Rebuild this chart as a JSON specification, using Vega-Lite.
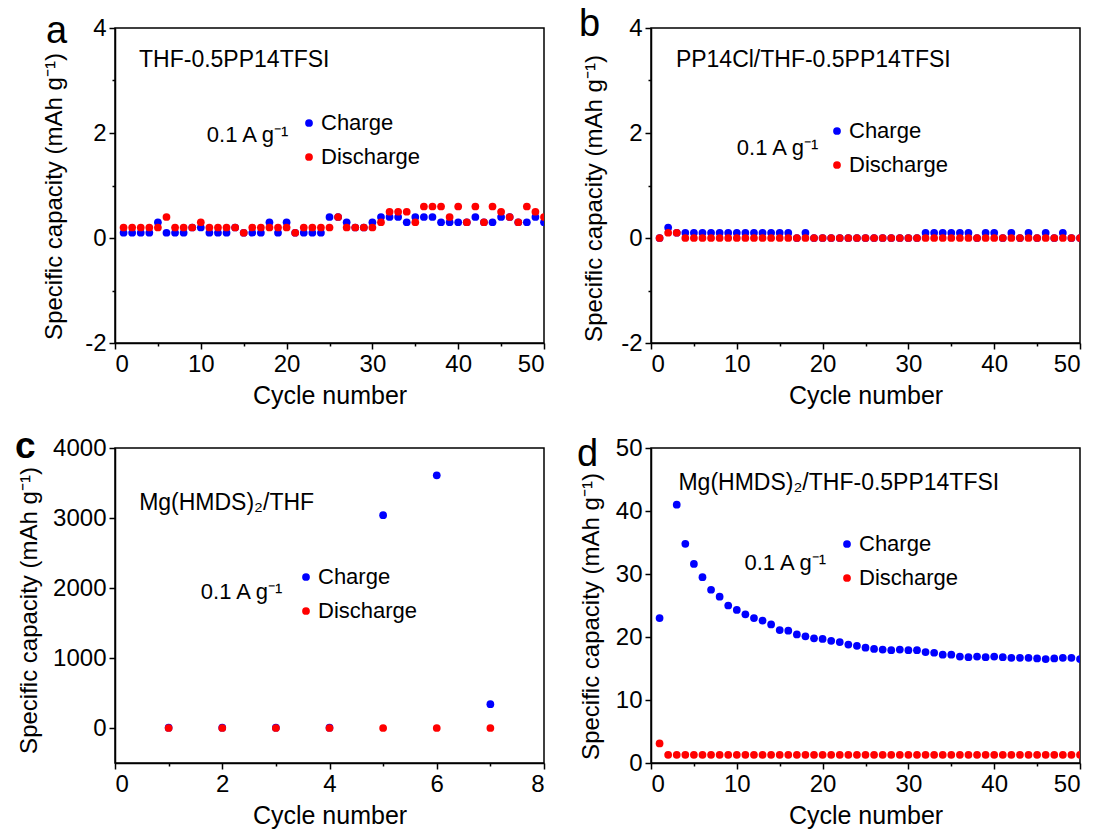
{
"$schema": "https://vega.github.io/schema/vega-lite/v6.json",
"background": "white",
"padding": {"left": 14, "top": 5, "right": 5, "bottom": 5},
"config": {
  "font": "Liberation Sans",
  "view": {"stroke": "black", "strokeWidth": 1.5},
  "axis": {"grid": false, "domainColor": "black", "domainWidth": 1.5, "tickColor": "black", "tickWidth": 1.5, "tickSize": 6,
    "labelFont": "Liberation Sans", "labelFontSize": 24, "labelColor": "black", "labelPadding": 3,
    "titleFont": "Liberation Sans", "titleFontSize": 25, "titleFontWeight": "normal", "titleColor": "black", "titlePadding": 7},
  "axisY": {"titleFontSize": 24},
  "legend": {"title": null, "orient": "none", "symbolType": "circle", "symbolSize": 60, "symbolStrokeWidth": 0,
    "labelFont": "Liberation Sans", "labelFontSize": 22, "labelColor": "black", "rowPadding": 12, "labelOffset": 1, "padding": 0},
  "text": {"font": "Liberation Sans", "color": "black"}
},
"datasets": {
  "a": [
    {"cycle":1,"series":"Charge","capacity":0.1},{"cycle":2,"series":"Charge","capacity":0.1},{"cycle":3,"series":"Charge","capacity":0.1},{"cycle":4,"series":"Charge","capacity":0.1},{"cycle":5,"series":"Charge","capacity":0.3},
    {"cycle":6,"series":"Charge","capacity":0.1},{"cycle":7,"series":"Charge","capacity":0.1},{"cycle":8,"series":"Charge","capacity":0.1},{"cycle":9,"series":"Charge","capacity":0.2},{"cycle":10,"series":"Charge","capacity":0.2},
    {"cycle":11,"series":"Charge","capacity":0.1},{"cycle":12,"series":"Charge","capacity":0.1},{"cycle":13,"series":"Charge","capacity":0.1},{"cycle":14,"series":"Charge","capacity":0.2},{"cycle":15,"series":"Charge","capacity":0.1},
    {"cycle":16,"series":"Charge","capacity":0.1},{"cycle":17,"series":"Charge","capacity":0.1},{"cycle":18,"series":"Charge","capacity":0.3},{"cycle":19,"series":"Charge","capacity":0.1},{"cycle":20,"series":"Charge","capacity":0.3},
    {"cycle":21,"series":"Charge","capacity":0.1},{"cycle":22,"series":"Charge","capacity":0.1},{"cycle":23,"series":"Charge","capacity":0.1},{"cycle":24,"series":"Charge","capacity":0.1},{"cycle":25,"series":"Charge","capacity":0.4},
    {"cycle":26,"series":"Charge","capacity":0.4},{"cycle":27,"series":"Charge","capacity":0.3},{"cycle":28,"series":"Charge","capacity":0.2},{"cycle":29,"series":"Charge","capacity":0.2},{"cycle":30,"series":"Charge","capacity":0.3},
    {"cycle":31,"series":"Charge","capacity":0.4},{"cycle":32,"series":"Charge","capacity":0.4},{"cycle":33,"series":"Charge","capacity":0.4},{"cycle":34,"series":"Charge","capacity":0.3},{"cycle":35,"series":"Charge","capacity":0.4},
    {"cycle":36,"series":"Charge","capacity":0.4},{"cycle":37,"series":"Charge","capacity":0.4},{"cycle":38,"series":"Charge","capacity":0.3},{"cycle":39,"series":"Charge","capacity":0.3},{"cycle":40,"series":"Charge","capacity":0.3},
    {"cycle":41,"series":"Charge","capacity":0.3},{"cycle":42,"series":"Charge","capacity":0.4},{"cycle":43,"series":"Charge","capacity":0.3},{"cycle":44,"series":"Charge","capacity":0.3},{"cycle":45,"series":"Charge","capacity":0.4},
    {"cycle":46,"series":"Charge","capacity":0.4},{"cycle":47,"series":"Charge","capacity":0.3},{"cycle":48,"series":"Charge","capacity":0.3},{"cycle":49,"series":"Charge","capacity":0.4},{"cycle":50,"series":"Charge","capacity":0.3},
    {"cycle":1,"series":"Discharge","capacity":0.2},{"cycle":2,"series":"Discharge","capacity":0.2},{"cycle":3,"series":"Discharge","capacity":0.2},{"cycle":4,"series":"Discharge","capacity":0.2},{"cycle":5,"series":"Discharge","capacity":0.2},
    {"cycle":6,"series":"Discharge","capacity":0.4},{"cycle":7,"series":"Discharge","capacity":0.2},{"cycle":8,"series":"Discharge","capacity":0.2},{"cycle":9,"series":"Discharge","capacity":0.2},{"cycle":10,"series":"Discharge","capacity":0.3},
    {"cycle":11,"series":"Discharge","capacity":0.2},{"cycle":12,"series":"Discharge","capacity":0.2},{"cycle":13,"series":"Discharge","capacity":0.2},{"cycle":14,"series":"Discharge","capacity":0.2},{"cycle":15,"series":"Discharge","capacity":0.1},
    {"cycle":16,"series":"Discharge","capacity":0.2},{"cycle":17,"series":"Discharge","capacity":0.2},{"cycle":18,"series":"Discharge","capacity":0.2},{"cycle":19,"series":"Discharge","capacity":0.2},{"cycle":20,"series":"Discharge","capacity":0.2},
    {"cycle":21,"series":"Discharge","capacity":0.1},{"cycle":22,"series":"Discharge","capacity":0.2},{"cycle":23,"series":"Discharge","capacity":0.2},{"cycle":24,"series":"Discharge","capacity":0.2},{"cycle":25,"series":"Discharge","capacity":0.2},
    {"cycle":26,"series":"Discharge","capacity":0.4},{"cycle":27,"series":"Discharge","capacity":0.2},{"cycle":28,"series":"Discharge","capacity":0.2},{"cycle":29,"series":"Discharge","capacity":0.2},{"cycle":30,"series":"Discharge","capacity":0.2},
    {"cycle":31,"series":"Discharge","capacity":0.3},{"cycle":32,"series":"Discharge","capacity":0.5},{"cycle":33,"series":"Discharge","capacity":0.5},{"cycle":34,"series":"Discharge","capacity":0.5},{"cycle":35,"series":"Discharge","capacity":0.3},
    {"cycle":36,"series":"Discharge","capacity":0.6},{"cycle":37,"series":"Discharge","capacity":0.6},{"cycle":38,"series":"Discharge","capacity":0.6},{"cycle":39,"series":"Discharge","capacity":0.4},{"cycle":40,"series":"Discharge","capacity":0.6},
    {"cycle":41,"series":"Discharge","capacity":0.3},{"cycle":42,"series":"Discharge","capacity":0.6},{"cycle":43,"series":"Discharge","capacity":0.3},{"cycle":44,"series":"Discharge","capacity":0.6},{"cycle":45,"series":"Discharge","capacity":0.5},
    {"cycle":46,"series":"Discharge","capacity":0.4},{"cycle":47,"series":"Discharge","capacity":0.3},{"cycle":48,"series":"Discharge","capacity":0.6},{"cycle":49,"series":"Discharge","capacity":0.5},{"cycle":50,"series":"Discharge","capacity":0.4}
  ],
  "b": [
    {"cycle":1,"series":"Charge","capacity":0},{"cycle":2,"series":"Charge","capacity":0.2},{"cycle":3,"series":"Charge","capacity":0.1},{"cycle":4,"series":"Charge","capacity":0.1},{"cycle":5,"series":"Charge","capacity":0.1},
    {"cycle":6,"series":"Charge","capacity":0.1},{"cycle":7,"series":"Charge","capacity":0.1},{"cycle":8,"series":"Charge","capacity":0.1},{"cycle":9,"series":"Charge","capacity":0.1},{"cycle":10,"series":"Charge","capacity":0.1},
    {"cycle":11,"series":"Charge","capacity":0.1},{"cycle":12,"series":"Charge","capacity":0.1},{"cycle":13,"series":"Charge","capacity":0.1},{"cycle":14,"series":"Charge","capacity":0.1},{"cycle":15,"series":"Charge","capacity":0.1},
    {"cycle":16,"series":"Charge","capacity":0.1},{"cycle":17,"series":"Charge","capacity":0},{"cycle":18,"series":"Charge","capacity":0.1},{"cycle":19,"series":"Charge","capacity":0},{"cycle":20,"series":"Charge","capacity":0},
    {"cycle":21,"series":"Charge","capacity":0},{"cycle":22,"series":"Charge","capacity":0},{"cycle":23,"series":"Charge","capacity":0},{"cycle":24,"series":"Charge","capacity":0},{"cycle":25,"series":"Charge","capacity":0},
    {"cycle":26,"series":"Charge","capacity":0},{"cycle":27,"series":"Charge","capacity":0},{"cycle":28,"series":"Charge","capacity":0},{"cycle":29,"series":"Charge","capacity":0},{"cycle":30,"series":"Charge","capacity":0},
    {"cycle":31,"series":"Charge","capacity":0},{"cycle":32,"series":"Charge","capacity":0.1},{"cycle":33,"series":"Charge","capacity":0.1},{"cycle":34,"series":"Charge","capacity":0.1},{"cycle":35,"series":"Charge","capacity":0.1},
    {"cycle":36,"series":"Charge","capacity":0.1},{"cycle":37,"series":"Charge","capacity":0.1},{"cycle":38,"series":"Charge","capacity":0},{"cycle":39,"series":"Charge","capacity":0.1},{"cycle":40,"series":"Charge","capacity":0.1},
    {"cycle":41,"series":"Charge","capacity":0},{"cycle":42,"series":"Charge","capacity":0.1},{"cycle":43,"series":"Charge","capacity":0},{"cycle":44,"series":"Charge","capacity":0.1},{"cycle":45,"series":"Charge","capacity":0},
    {"cycle":46,"series":"Charge","capacity":0.1},{"cycle":47,"series":"Charge","capacity":0},{"cycle":48,"series":"Charge","capacity":0.1},{"cycle":49,"series":"Charge","capacity":0},{"cycle":50,"series":"Charge","capacity":0},
    {"cycle":1,"series":"Discharge","capacity":0},{"cycle":2,"series":"Discharge","capacity":0.1},{"cycle":3,"series":"Discharge","capacity":0.1},{"cycle":4,"series":"Discharge","capacity":0},{"cycle":5,"series":"Discharge","capacity":0},
    {"cycle":6,"series":"Discharge","capacity":0},{"cycle":7,"series":"Discharge","capacity":0},{"cycle":8,"series":"Discharge","capacity":0},{"cycle":9,"series":"Discharge","capacity":0},{"cycle":10,"series":"Discharge","capacity":0},
    {"cycle":11,"series":"Discharge","capacity":0},{"cycle":12,"series":"Discharge","capacity":0},{"cycle":13,"series":"Discharge","capacity":0},{"cycle":14,"series":"Discharge","capacity":0},{"cycle":15,"series":"Discharge","capacity":0},
    {"cycle":16,"series":"Discharge","capacity":0},{"cycle":17,"series":"Discharge","capacity":0},{"cycle":18,"series":"Discharge","capacity":0},{"cycle":19,"series":"Discharge","capacity":0},{"cycle":20,"series":"Discharge","capacity":0},
    {"cycle":21,"series":"Discharge","capacity":0},{"cycle":22,"series":"Discharge","capacity":0},{"cycle":23,"series":"Discharge","capacity":0},{"cycle":24,"series":"Discharge","capacity":0},{"cycle":25,"series":"Discharge","capacity":0},
    {"cycle":26,"series":"Discharge","capacity":0},{"cycle":27,"series":"Discharge","capacity":0},{"cycle":28,"series":"Discharge","capacity":0},{"cycle":29,"series":"Discharge","capacity":0},{"cycle":30,"series":"Discharge","capacity":0},
    {"cycle":31,"series":"Discharge","capacity":0},{"cycle":32,"series":"Discharge","capacity":0},{"cycle":33,"series":"Discharge","capacity":0},{"cycle":34,"series":"Discharge","capacity":0},{"cycle":35,"series":"Discharge","capacity":0},
    {"cycle":36,"series":"Discharge","capacity":0},{"cycle":37,"series":"Discharge","capacity":0},{"cycle":38,"series":"Discharge","capacity":0},{"cycle":39,"series":"Discharge","capacity":0},{"cycle":40,"series":"Discharge","capacity":0},
    {"cycle":41,"series":"Discharge","capacity":0},{"cycle":42,"series":"Discharge","capacity":0},{"cycle":43,"series":"Discharge","capacity":0},{"cycle":44,"series":"Discharge","capacity":0},{"cycle":45,"series":"Discharge","capacity":0},
    {"cycle":46,"series":"Discharge","capacity":0},{"cycle":47,"series":"Discharge","capacity":0},{"cycle":48,"series":"Discharge","capacity":0},{"cycle":49,"series":"Discharge","capacity":0},{"cycle":50,"series":"Discharge","capacity":0}
  ],
  "c": [
    {"cycle":1,"series":"Charge","capacity":5},{"cycle":2,"series":"Charge","capacity":5},{"cycle":3,"series":"Charge","capacity":5},{"cycle":4,"series":"Charge","capacity":5},
    {"cycle":5,"series":"Charge","capacity":3040},{"cycle":6,"series":"Charge","capacity":3610},{"cycle":7,"series":"Charge","capacity":340},
    {"cycle":1,"series":"Discharge","capacity":0},{"cycle":2,"series":"Discharge","capacity":0},{"cycle":3,"series":"Discharge","capacity":0},{"cycle":4,"series":"Discharge","capacity":0},
    {"cycle":5,"series":"Discharge","capacity":0},{"cycle":6,"series":"Discharge","capacity":0},{"cycle":7,"series":"Discharge","capacity":0}
  ],
  "d": [
    {"cycle":1,"series":"Charge","capacity":23.0},{"cycle":3,"series":"Charge","capacity":41.0},{"cycle":4,"series":"Charge","capacity":34.8},{"cycle":5,"series":"Charge","capacity":31.6},
    {"cycle":6,"series":"Charge","capacity":29.5},{"cycle":7,"series":"Charge","capacity":27.5},{"cycle":8,"series":"Charge","capacity":26.4},{"cycle":9,"series":"Charge","capacity":25.0},{"cycle":10,"series":"Charge","capacity":24.3},
    {"cycle":11,"series":"Charge","capacity":23.6},{"cycle":12,"series":"Charge","capacity":23.0},{"cycle":13,"series":"Charge","capacity":22.6},{"cycle":14,"series":"Charge","capacity":22.0},{"cycle":15,"series":"Charge","capacity":21.1},
    {"cycle":16,"series":"Charge","capacity":21.0},{"cycle":17,"series":"Charge","capacity":20.4},{"cycle":18,"series":"Charge","capacity":20.1},{"cycle":19,"series":"Charge","capacity":19.8},{"cycle":20,"series":"Charge","capacity":19.7},
    {"cycle":21,"series":"Charge","capacity":19.4},{"cycle":22,"series":"Charge","capacity":19.2},{"cycle":23,"series":"Charge","capacity":18.8},{"cycle":24,"series":"Charge","capacity":18.6},{"cycle":25,"series":"Charge","capacity":18.3},
    {"cycle":26,"series":"Charge","capacity":18.1},{"cycle":27,"series":"Charge","capacity":18.0},{"cycle":28,"series":"Charge","capacity":17.9},{"cycle":29,"series":"Charge","capacity":18.0},{"cycle":30,"series":"Charge","capacity":17.9},
    {"cycle":31,"series":"Charge","capacity":17.9},{"cycle":32,"series":"Charge","capacity":17.6},{"cycle":33,"series":"Charge","capacity":17.5},{"cycle":34,"series":"Charge","capacity":17.2},{"cycle":35,"series":"Charge","capacity":17.2},
    {"cycle":36,"series":"Charge","capacity":16.9},{"cycle":37,"series":"Charge","capacity":16.8},{"cycle":38,"series":"Charge","capacity":16.9},{"cycle":39,"series":"Charge","capacity":16.8},{"cycle":40,"series":"Charge","capacity":16.9},
    {"cycle":41,"series":"Charge","capacity":16.8},{"cycle":42,"series":"Charge","capacity":16.7},{"cycle":43,"series":"Charge","capacity":16.7},{"cycle":44,"series":"Charge","capacity":16.7},{"cycle":45,"series":"Charge","capacity":16.6},
    {"cycle":46,"series":"Charge","capacity":16.5},{"cycle":47,"series":"Charge","capacity":16.6},{"cycle":48,"series":"Charge","capacity":16.7},{"cycle":49,"series":"Charge","capacity":16.7},{"cycle":50,"series":"Charge","capacity":16.5},
    {"cycle":1,"series":"Discharge","capacity":3.1},{"cycle":2,"series":"Discharge","capacity":1.3},{"cycle":3,"series":"Discharge","capacity":1.3},{"cycle":4,"series":"Discharge","capacity":1.3},{"cycle":5,"series":"Discharge","capacity":1.3},
    {"cycle":6,"series":"Discharge","capacity":1.3},{"cycle":7,"series":"Discharge","capacity":1.3},{"cycle":8,"series":"Discharge","capacity":1.3},{"cycle":9,"series":"Discharge","capacity":1.3},{"cycle":10,"series":"Discharge","capacity":1.3},
    {"cycle":11,"series":"Discharge","capacity":1.3},{"cycle":12,"series":"Discharge","capacity":1.3},{"cycle":13,"series":"Discharge","capacity":1.3},{"cycle":14,"series":"Discharge","capacity":1.3},{"cycle":15,"series":"Discharge","capacity":1.3},
    {"cycle":16,"series":"Discharge","capacity":1.3},{"cycle":17,"series":"Discharge","capacity":1.3},{"cycle":18,"series":"Discharge","capacity":1.3},{"cycle":19,"series":"Discharge","capacity":1.3},{"cycle":20,"series":"Discharge","capacity":1.3},
    {"cycle":21,"series":"Discharge","capacity":1.3},{"cycle":22,"series":"Discharge","capacity":1.3},{"cycle":23,"series":"Discharge","capacity":1.3},{"cycle":24,"series":"Discharge","capacity":1.3},{"cycle":25,"series":"Discharge","capacity":1.3},
    {"cycle":26,"series":"Discharge","capacity":1.3},{"cycle":27,"series":"Discharge","capacity":1.3},{"cycle":28,"series":"Discharge","capacity":1.3},{"cycle":29,"series":"Discharge","capacity":1.3},{"cycle":30,"series":"Discharge","capacity":1.3},
    {"cycle":31,"series":"Discharge","capacity":1.3},{"cycle":32,"series":"Discharge","capacity":1.3},{"cycle":33,"series":"Discharge","capacity":1.3},{"cycle":34,"series":"Discharge","capacity":1.3},{"cycle":35,"series":"Discharge","capacity":1.3},
    {"cycle":36,"series":"Discharge","capacity":1.3},{"cycle":37,"series":"Discharge","capacity":1.3},{"cycle":38,"series":"Discharge","capacity":1.3},{"cycle":39,"series":"Discharge","capacity":1.3},{"cycle":40,"series":"Discharge","capacity":1.3},
    {"cycle":41,"series":"Discharge","capacity":1.3},{"cycle":42,"series":"Discharge","capacity":1.3},{"cycle":43,"series":"Discharge","capacity":1.3},{"cycle":44,"series":"Discharge","capacity":1.3},{"cycle":45,"series":"Discharge","capacity":1.3},
    {"cycle":46,"series":"Discharge","capacity":1.3},{"cycle":47,"series":"Discharge","capacity":1.3},{"cycle":48,"series":"Discharge","capacity":1.3},{"cycle":49,"series":"Discharge","capacity":1.3},{"cycle":50,"series":"Discharge","capacity":1.3}
  ]
},
"columns": 2,
"spacing": {"row": 105, "column": 107},
"bounds": "flush",
"resolve": {"scale": {"color": "independent", "x": "independent", "y": "independent"}, "legend": {"color": "independent"}},
"concat": [
  {
    "width": 429, "height": 315,
    "layer": [
      {"data": {"name": "a"}, "mark": {"type": "point", "filled": true, "size": 60, "opacity": 1, "clip": true},
       "encoding": {
         "x": {"field": "cycle", "type": "quantitative", "scale": {"domain": [0, 50], "nice": false},
           "axis": {"title": "Cycle number", "values": [0,5,10,15,20,25,30,35,40,45,50], "labelExpr": "datum.value % 10 === 0 ? '' + datum.value : ''", "tickSize": {"condition": {"test": "datum.value % 10 !== 0", "value": 3}, "value": 6}}},
         "y": {"field": "capacity", "type": "quantitative", "scale": {"domain": [-2, 4], "nice": false},
           "axis": {"title": "Specific capacity (mAh g⁻¹)", "titlePadding": 18, "titleY": 168, "values": [-2,-1,0,1,2,3,4], "labelExpr": "datum.value % 2 === 0 ? '' + datum.value : ''", "tickSize": {"condition": {"test": "datum.value % 2 !== 0", "value": 3}, "value": 6}}},
         "color": {"field": "series", "type": "nominal", "scale": {"domain": ["Charge", "Discharge"], "range": ["#0000ff", "#ff0000"]}, "legend": {"legendX": 183, "legendY": 84}}
       }},
      {"data": {"values": [{}]}, "mark": {"type": "text", "text": "THF-0.5PP14TFSI", "align": "left", "baseline": "middle", "fontSize": 23}, "encoding": {"x": {"datum": 2.8}, "y": {"datum": 3.4}}},
      {"data": {"values": [{}]}, "mark": {"type": "text", "text": "0.1 A g⁻¹", "align": "left", "baseline": "middle", "fontSize": 22}, "encoding": {"x": {"datum": 10.7}, "y": {"datum": 1.97}}},
      {"data": {"values": [{}]}, "mark": {"type": "text", "text": "a", "align": "left", "baseline": "alphabetic", "fontSize": 38, "dx": -69, "dy": 15}, "encoding": {"x": {"datum": 0}, "y": {"datum": 4}}}
    ]
  },
  {
    "width": 429, "height": 315,
    "layer": [
      {"data": {"name": "b"}, "mark": {"type": "point", "filled": true, "size": 60, "opacity": 1, "clip": true},
       "encoding": {
         "x": {"field": "cycle", "type": "quantitative", "scale": {"domain": [0, 50], "nice": false},
           "axis": {"title": "Cycle number", "values": [0,5,10,15,20,25,30,35,40,45,50], "labelExpr": "datum.value % 10 === 0 ? '' + datum.value : ''", "tickSize": {"condition": {"test": "datum.value % 10 !== 0", "value": 3}, "value": 6}}},
         "y": {"field": "capacity", "type": "quantitative", "scale": {"domain": [-2, 4], "nice": false},
           "axis": {"title": "Specific capacity (mAh g⁻¹)", "titlePadding": 14, "titleY": 170, "values": [-2,-1,0,1,2,3,4], "labelExpr": "datum.value % 2 === 0 ? '' + datum.value : ''", "tickSize": {"condition": {"test": "datum.value % 2 !== 0", "value": 3}, "value": 6}}},
         "color": {"field": "series", "type": "nominal", "scale": {"domain": ["Charge", "Discharge"], "range": ["#0000ff", "#ff0000"]}, "legend": {"legendX": 175, "legendY": 92}}
       }},
      {"data": {"values": [{}]}, "mark": {"type": "text", "text": "PP14Cl/THF-0.5PP14TFSI", "align": "left", "baseline": "middle", "fontSize": 23}, "encoding": {"x": {"datum": 2.9}, "y": {"datum": 3.39}}},
      {"data": {"values": [{}]}, "mark": {"type": "text", "text": "0.1 A g⁻¹", "align": "left", "baseline": "middle", "fontSize": 22}, "encoding": {"x": {"datum": 10.0}, "y": {"datum": 1.72}}},
      {"data": {"values": [{}]}, "mark": {"type": "text", "text": "b", "align": "left", "baseline": "alphabetic", "fontSize": 38, "dx": -72, "dy": 8}, "encoding": {"x": {"datum": 0}, "y": {"datum": 4}}}
    ]
  },
  {
    "width": 429, "height": 315,
    "layer": [
      {"data": {"name": "c"}, "mark": {"type": "point", "filled": true, "size": 60, "opacity": 1, "clip": true},
       "encoding": {
         "x": {"field": "cycle", "type": "quantitative", "scale": {"domain": [0, 8], "nice": false},
           "axis": {"title": "Cycle number", "values": [0,1,2,3,4,5,6,7,8], "labelExpr": "datum.value % 2 === 0 ? '' + datum.value : ''", "tickSize": {"condition": {"test": "datum.value % 2 !== 0", "value": 3}, "value": 6}}},
         "y": {"field": "capacity", "type": "quantitative", "scale": {"domain": [-500, 4000], "nice": false},
           "axis": {"title": "Specific capacity (mAh g⁻¹)", "titlePadding": 11, "titleY": 162, "values": [0,500,1000,1500,2000,2500,3000,3500,4000], "labelExpr": "datum.value % 1000 === 0 ? '' + datum.value : ''", "tickSize": {"condition": {"test": "datum.value % 1000 !== 0", "value": 3}, "value": 6}}},
         "color": {"field": "series", "type": "nominal", "scale": {"domain": ["Charge", "Discharge"], "range": ["#0000ff", "#ff0000"]}, "legend": {"legendX": 180, "legendY": 118}}
       }},
      {"data": {"values": [{}]}, "mark": {"type": "text", "text": "Mg(HMDS)₂/THF", "align": "left", "baseline": "middle", "fontSize": 23}, "encoding": {"x": {"datum": 0.45}, "y": {"datum": 3210}}},
      {"data": {"values": [{}]}, "mark": {"type": "text", "text": "0.1 A g⁻¹", "align": "left", "baseline": "middle", "fontSize": 22}, "encoding": {"x": {"datum": 1.6}, "y": {"datum": 1950}}},
      {"data": {"values": [{}]}, "mark": {"type": "text", "text": "c", "align": "left", "baseline": "alphabetic", "fontSize": 37, "fontWeight": "bold", "dx": -100, "dy": 10}, "encoding": {"x": {"datum": 0}, "y": {"datum": 4000}}}
    ]
  },
  {
    "width": 429, "height": 315,
    "layer": [
      {"data": {"name": "d"}, "mark": {"type": "point", "filled": true, "size": 60, "opacity": 1, "clip": true},
       "encoding": {
         "x": {"field": "cycle", "type": "quantitative", "scale": {"domain": [0, 50], "nice": false},
           "axis": {"title": "Cycle number", "values": [0,5,10,15,20,25,30,35,40,45,50], "labelExpr": "datum.value % 10 === 0 ? '' + datum.value : ''", "tickSize": {"condition": {"test": "datum.value % 10 !== 0", "value": 3}, "value": 6}}},
         "y": {"field": "capacity", "type": "quantitative", "scale": {"domain": [0, 50], "nice": false},
           "axis": {"title": "Specific capacity (mAh g⁻¹)", "titlePadding": 12, "titleY": 168, "values": [0,5,10,15,20,25,30,35,40,45,50], "labelExpr": "datum.value % 10 === 0 ? '' + datum.value : ''", "tickSize": {"condition": {"test": "datum.value % 10 !== 0", "value": 3}, "value": 6}}},
         "color": {"field": "series", "type": "nominal", "scale": {"domain": ["Charge", "Discharge"], "range": ["#0000ff", "#ff0000"]}, "legend": {"legendX": 185, "legendY": 85}}
       }},
      {"data": {"values": [{}]}, "mark": {"type": "text", "text": "Mg(HMDS)₂/THF-0.5PP14TFSI", "align": "left", "baseline": "middle", "fontSize": 23}, "encoding": {"x": {"datum": 3.2}, "y": {"datum": 44.4}}},
      {"data": {"values": [{}]}, "mark": {"type": "text", "text": "0.1 A g⁻¹", "align": "left", "baseline": "middle", "fontSize": 22}, "encoding": {"x": {"datum": 10.9}, "y": {"datum": 31.8}}},
      {"data": {"values": [{}]}, "mark": {"type": "text", "text": "d", "align": "left", "baseline": "alphabetic", "fontSize": 38, "dx": -74, "dy": 18}, "encoding": {"x": {"datum": 0}, "y": {"datum": 50}}}
    ]
  }
]
}
